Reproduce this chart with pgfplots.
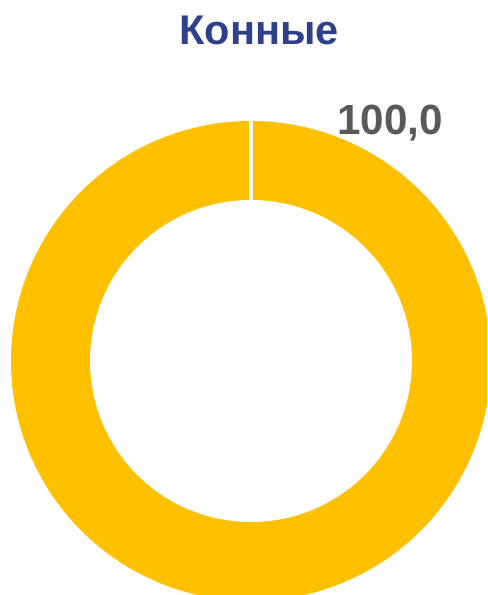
\documentclass[border=0pt]{standalone}
\usepackage{pgfplots}
\pgfplotsset{compat=1.18}
\usepackage{pgfplotstable}
\usepackage{fontspec}
\setmainfont{Liberation Sans}
\definecolor{ringc}{RGB}{255,192,0}
\definecolor{titlec}{RGB}{47,64,139}
\definecolor{labc}{RGB}{89,89,89}
\pgfplotstableread{
share
100.0
}\slices
\begin{document}
\begin{tikzpicture}
\pgfplotstablegetelem{0}{share}\of\slices
\pgfmathsetmacro\ext{3.6*\pgfplotsretval}
\begin{axis}[
  scale only axis, width=4.87in, height=5.95in,
  xmin=0, xmax=487, ymin=0, ymax=595,
  hide axis, clip=true,
]
\path (rel axis cs:0,0) rectangle (rel axis cs:1,1);
% outer disc for the slice
\addplot[fill=ringc, draw=none, domain=0:\ext, samples=361, variable=\t]
  ({251+240*sin(t)}, {234+240*cos(t)}) -- (axis cs:251,234) -- cycle;
% hole
\addplot[fill=white, draw=none, domain=0:360, samples=361, variable=\t]
  ({251+161*sin(t)}, {234+161*cos(t)}) -- cycle;
% slice border
\addplot[white, line width=3pt] coordinates {(251,392) (251,476)};
\node[font=\fontsize{30}{36}\selectfont\bfseries, text=titlec] at (axis cs:259,565) {Конные};
\node[font=\fontsize{30.5}{36}\selectfont\bfseries, text=labc] at (axis cs:390,472) {100,0};
\end{axis}
\end{tikzpicture}
\end{document}
